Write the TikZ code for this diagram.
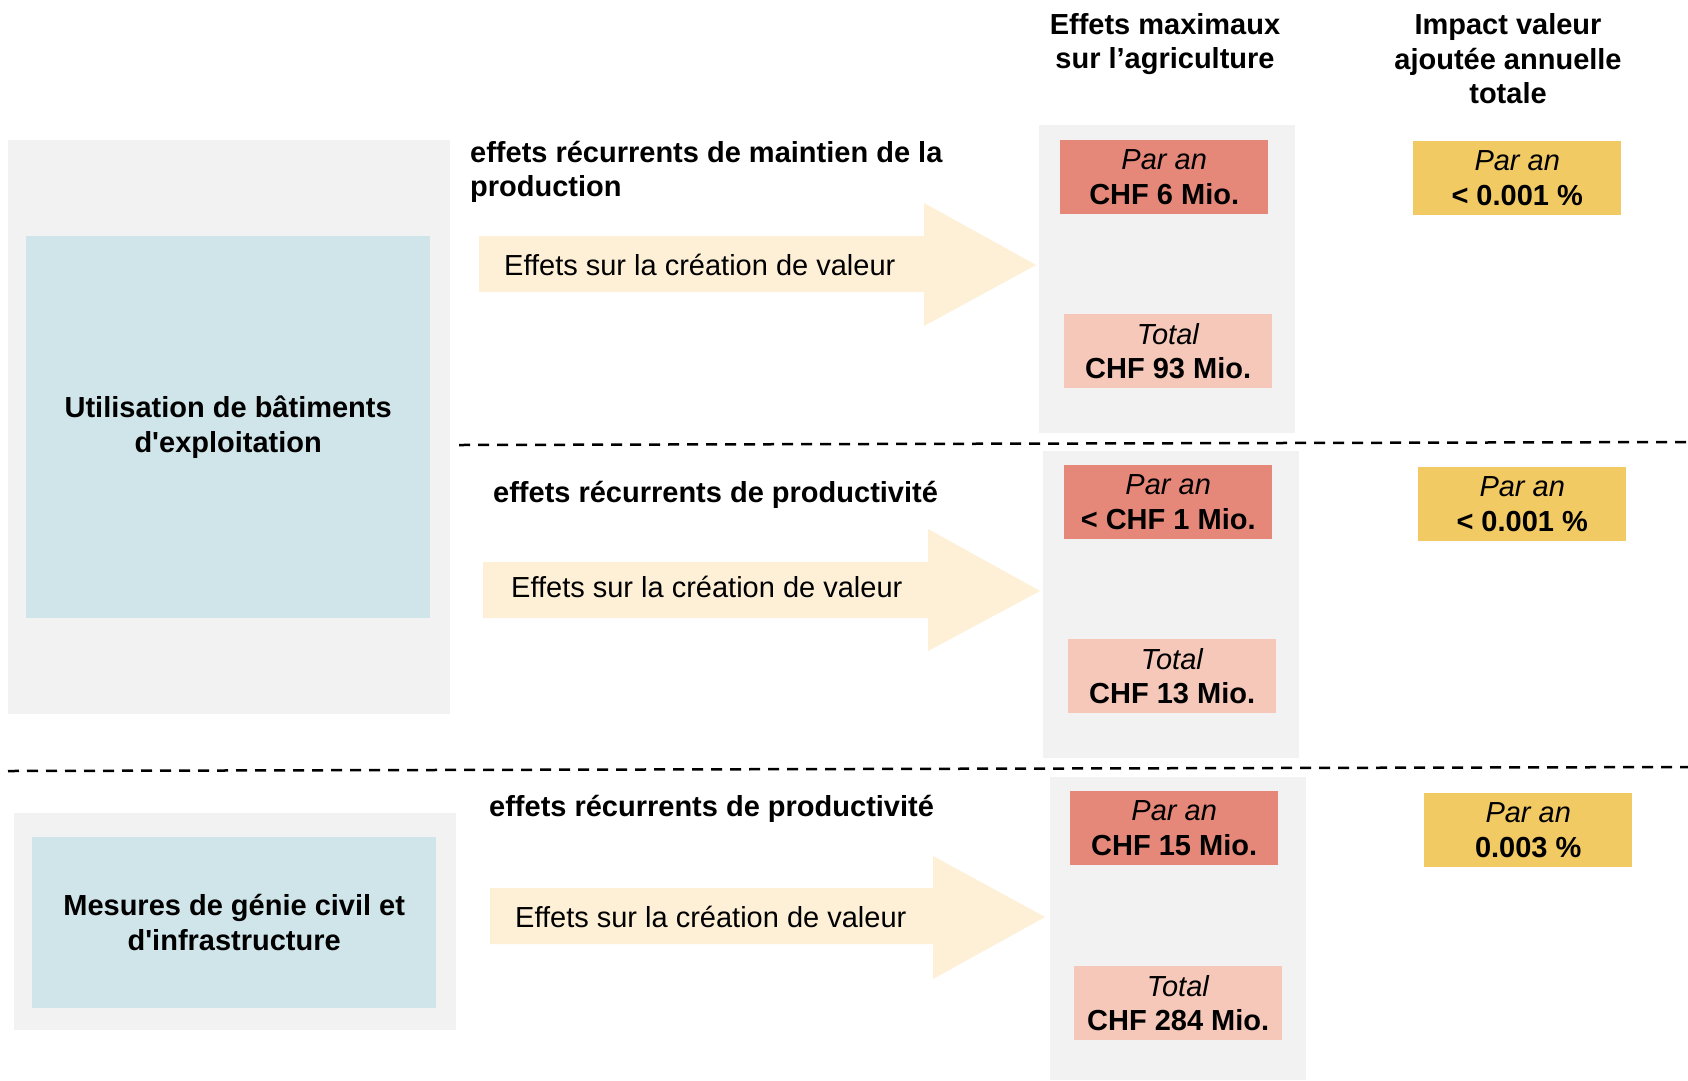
\documentclass[tikz,border=0pt]{standalone}
\usepackage{fontspec}
\setmainfont{Liberation Sans}
\definecolor{greybg}{HTML}{F2F2F2}
\definecolor{bluebg}{HTML}{D0E5EA}
\definecolor{redbox}{HTML}{E5887A}
\definecolor{pinkbox}{HTML}{F5C8BA}
\definecolor{yellowbox}{HTML}{F2CA64}
\definecolor{arrowfill}{HTML}{FDF0D6}
\begin{document}
\begin{tikzpicture}[x=1pt,y=-1pt,
  every node/.style={font=\fontsize{29}{34.5}\selectfont, inner sep=0pt},
  panel/.style={fill=greybg, anchor=north west},
  topic/.style={fill=bluebg, anchor=north west, align=center, font=\fontsize{29}{34.5}\selectfont\bfseries},
  valbox/.style={anchor=north west, align=center, minimum width=208pt, minimum height=74pt},
  parbox/.style={valbox, fill=redbox},
  totbox/.style={valbox, fill=pinkbox},
  impbox/.style={valbox, fill=yellowbox},
  heading/.style={align=center, font=\fontsize{29}{34.5}\selectfont\bfseries},
  sectitle/.style={anchor=base west, align=left, font=\fontsize{29}{34.5}\selectfont\bfseries},
  arrowtext/.style={anchor=base west},
  sep/.style={dash pattern=on 11pt off 8pt, line width=2.5pt}
]
\useasboundingbox (0,0) rectangle (1688,1080);
\fill[white] (0,0) rectangle (1688,1080);

% headers
\node[heading] (h1) at (1165,44) {Effets maximaux\\sur l’agriculture};
\node[heading] (h2) at (1508,59) {Impact valeur\\ajoutée annuelle\\totale};

% left panels
\node[panel, minimum width=442pt, minimum height=574pt] (p1) at (8,140) {};
\node[topic, minimum width=404pt, minimum height=382pt] (t1) at (26,236) {Utilisation de bâtiments\\d\textquotesingle exploitation};
\node[panel, minimum width=442pt, minimum height=217pt] (p2) at (14,813) {};
\node[topic, minimum width=404pt, minimum height=171pt] (t2) at (32,837) {Mesures de génie civil et\\d\textquotesingle infrastructure};

% column panels
\node[panel, minimum width=256pt, minimum height=308pt] (c1) at (1039,125) {};
\node[panel, minimum width=256pt, minimum height=307pt] (c2) at (1043,451) {};
\node[panel, minimum width=256pt, minimum height=303pt] (c3) at (1050,777) {};

% arrows
\fill[arrowfill] (479,236) -- (924,236) -- (924,203) -- (1036,265) -- (924,326) -- (924,292) -- (479,292) -- cycle;
\fill[arrowfill] (483,562) -- (928,562) -- (928,529) -- (1040,591) -- (928,651) -- (928,618) -- (483,618) -- cycle;
\fill[arrowfill] (490,888) -- (933,888) -- (933,856) -- (1045,917) -- (933,979) -- (933,944) -- (490,944) -- cycle;
\node[arrowtext] (a1) at (504,275) {Effets sur la création de valeur};
\node[arrowtext] (a2) at (511,597) {Effets sur la création de valeur};
\node[arrowtext] (a3) at (515,927) {Effets sur la création de valeur};

% section titles
\node[sectitle] (s1) at (470,196.5) {effets récurrents de maintien de la\\production};
\node[sectitle] (s2) at (493,502) {effets récurrents de productivité};
\node[sectitle] (s3) at (489,816) {effets récurrents de productivité};

% value boxes
\node[parbox] (r1) at (1060,140) {\textit{Par an}\\\textbf{CHF 6 Mio.}};
\node[totbox] (k1) at (1064,314) {\textit{Total}\\\textbf{CHF 93 Mio.}};
\node[impbox] (y1) at (1413,141) {\textit{Par an}\\\textbf{< 0.001 \%}};

\node[parbox] (r2) at (1064,465) {\textit{Par an}\\\textbf{< CHF 1 Mio.}};
\node[totbox] (k2) at (1068,639) {\textit{Total}\\\textbf{CHF 13 Mio.}};
\node[impbox] (y2) at (1418,467) {\textit{Par an}\\\textbf{< 0.001 \%}};

\node[parbox] (r3) at (1070,791) {\textit{Par an}\\\textbf{CHF 15 Mio.}};
\node[totbox] (k3) at (1074,966) {\textit{Total}\\\textbf{CHF 284 Mio.}};
\node[impbox] (y3) at (1424,793) {\textit{Par an}\\\textbf{0.003 \%}};

% separators
\coordinate (d1a) at (459,445);
\coordinate (d1b) at (1688,442);
\coordinate (d2a) at (8,771);
\coordinate (d2b) at (1688,767);
\draw[sep] (d1a) -- (d1b);
\draw[sep] (d2a) -- (d2b);
\end{tikzpicture}
\end{document}
